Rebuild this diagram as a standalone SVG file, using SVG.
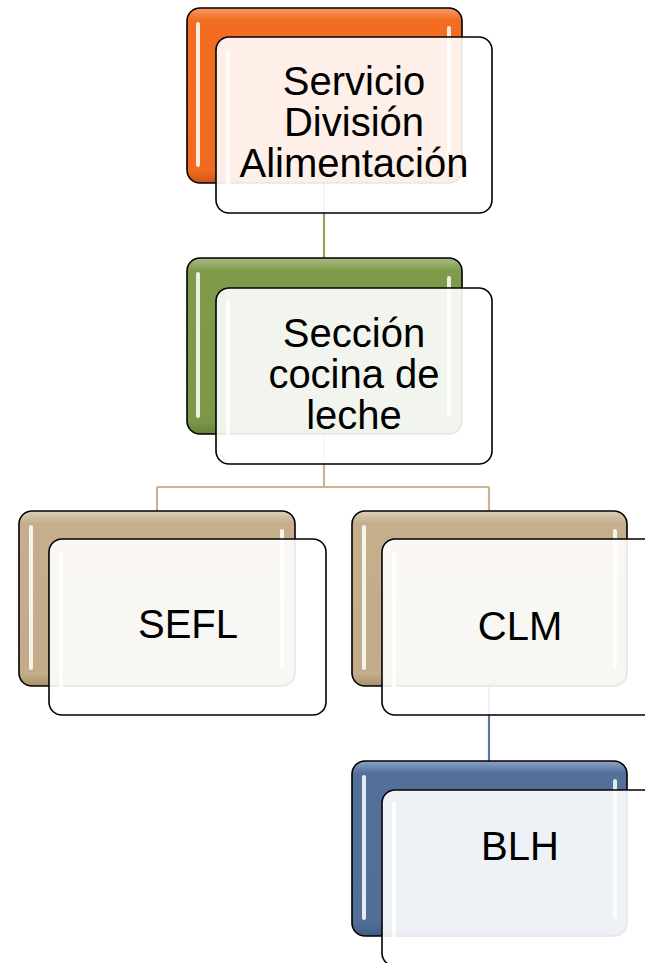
<svg xmlns="http://www.w3.org/2000/svg" width="645" height="963" viewBox="0 0 645 963">
<defs>
<linearGradient id="gOr" x1="0" y1="0" x2="0" y2="1">
<stop offset="0" stop-color="#f89a66"/><stop offset="0.07" stop-color="#f26c22"/><stop offset="0.93" stop-color="#f06a20"/><stop offset="1" stop-color="#c9561a"/>
</linearGradient>
<linearGradient id="gGr" x1="0" y1="0" x2="0" y2="1">
<stop offset="0" stop-color="#a9bd85"/><stop offset="0.07" stop-color="#7f9a4b"/><stop offset="0.93" stop-color="#7c9748"/><stop offset="1" stop-color="#65803a"/>
</linearGradient>
<linearGradient id="gTn" x1="0" y1="0" x2="0" y2="1">
<stop offset="0" stop-color="#ddd0bb"/><stop offset="0.07" stop-color="#c5ae8c"/><stop offset="0.93" stop-color="#c3ac89"/><stop offset="1" stop-color="#a9916e"/>
</linearGradient>
<linearGradient id="gBl" x1="0" y1="0" x2="0" y2="1">
<stop offset="0" stop-color="#8da3c4"/><stop offset="0.07" stop-color="#53709b"/><stop offset="0.93" stop-color="#516e99"/><stop offset="1" stop-color="#3e5a82"/>
</linearGradient>
</defs>
<style>
.back{stroke:#000;stroke-width:1.6}
.front{fill:#ffffff;fill-opacity:0.9;stroke:#000;stroke-width:1.6}
.hl{fill:#ffffff;opacity:0.85}
.t{font-family:"Liberation Sans",Arial,sans-serif;font-size:40px;fill:#000;text-anchor:middle}
.con{fill:none;stroke-width:2.2}
</style>
<rect width="645" height="963" fill="#ffffff"/>
<g id="connectors">
<path class="con" stroke="#8aa65e" d="M324,182 V258"/>
<path class="con" stroke="#c9b592" d="M324,434 V487 M157,487 H489 M157,487 V511 M489,487 V511"/>
<path class="con" stroke="#5b79a6" d="M489,686 V761"/>
</g>
<g id="node-servicio">
<rect class="back" x="187" y="8" width="275" height="175" rx="13" fill="url(#gOr)"/>
<rect class="hl" x="196" y="22" width="4" height="145" rx="2"/>
<rect class="hl" x="447" y="26" width="4" height="140" rx="2"/>
<rect class="front" x="216" y="37" width="276" height="176" rx="13"/>
<rect class="hl" x="226" y="50" width="4" height="140" rx="2"/>
<text class="t" x="354" y="95">Servicio</text>
<text class="t" x="354" y="136">División</text>
<text class="t" x="354" y="177">Alimentación</text>
</g>
<g id="node-seccion">
<rect class="back" x="187" y="258" width="275" height="176" rx="13" fill="url(#gGr)"/>
<rect class="hl" x="196" y="272" width="4" height="146" rx="2"/>
<rect class="hl" x="447" y="276" width="4" height="140" rx="2"/>
<rect class="front" x="216" y="288" width="276" height="176" rx="13"/>
<rect class="hl" x="226" y="300" width="4" height="140" rx="2"/>
<text class="t" x="354" y="347">Sección</text>
<text class="t" x="354" y="388">cocina de</text>
<text class="t" x="354" y="429">leche</text>
</g>
<g id="node-sefl">
<rect class="back" x="19" y="511" width="276" height="175" rx="13" fill="url(#gTn)"/>
<rect class="hl" x="29" y="525" width="4" height="145" rx="2"/>
<rect class="hl" x="280" y="529" width="4" height="140" rx="2"/>
<rect class="front" x="49" y="539" width="277" height="176" rx="13"/>
<rect class="hl" x="59" y="551" width="4" height="140" rx="2"/>
<text class="t" x="188" y="638">SEFL</text>
</g>
<g id="node-clm">
<rect class="back" x="352" y="511" width="275" height="175" rx="13" fill="url(#gTn)"/>
<rect class="hl" x="362" y="525" width="4" height="145" rx="2"/>
<rect class="hl" x="613" y="529" width="4" height="140" rx="2"/>
<rect class="front" x="382" y="539" width="277" height="176" rx="13"/>
<rect class="hl" x="392" y="551" width="4" height="140" rx="2"/>
<text class="t" x="520" y="640">CLM</text>
</g>
<g id="node-blh">
<rect class="back" x="352" y="761" width="275" height="175" rx="13" fill="url(#gBl)"/>
<rect class="hl" x="362" y="775" width="4" height="145" rx="2"/>
<rect class="hl" x="613" y="779" width="4" height="140" rx="2"/>
<rect class="front" x="382" y="790" width="277" height="176" rx="13"/>
<rect class="hl" x="392" y="802" width="4" height="140" rx="2"/>
<text class="t" x="520" y="860">BLH</text>
</g>
</svg>
